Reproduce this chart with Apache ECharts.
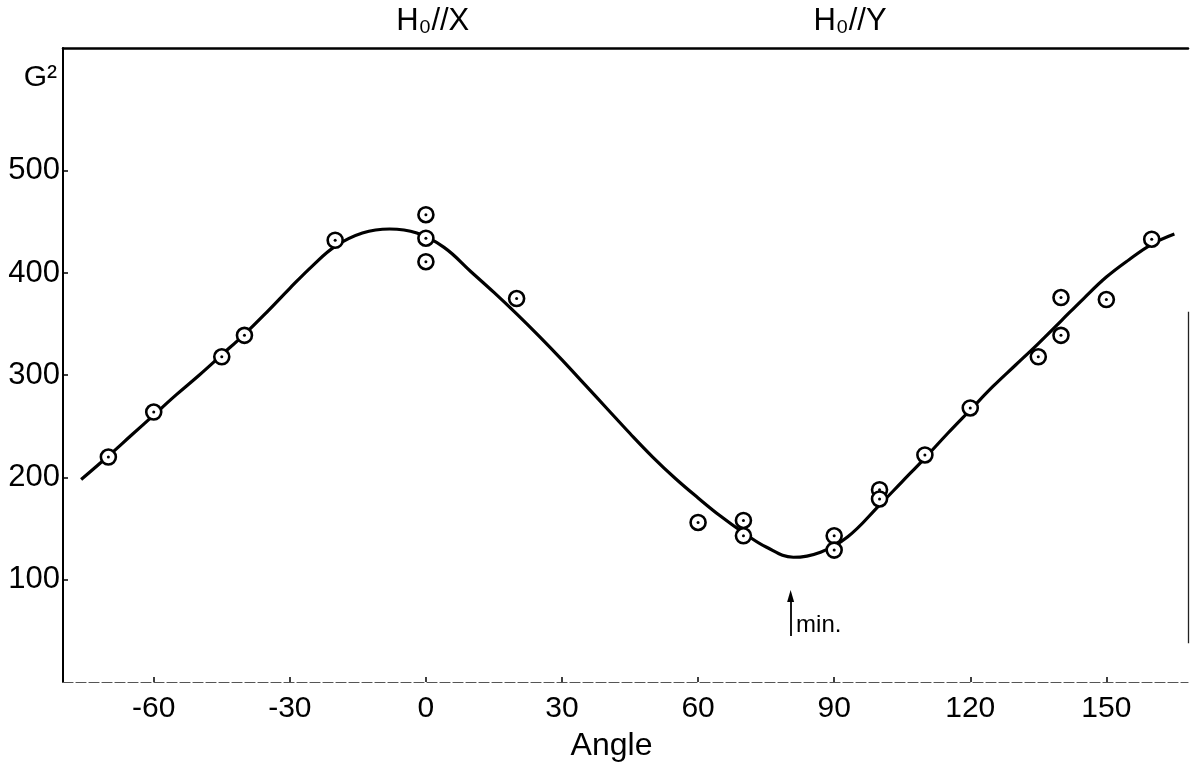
<!DOCTYPE html>
<html>
<head>
<meta charset="utf-8">
<script src="https://cdn.jsdelivr.net/npm/echarts/dist/echarts.min.js"></script>
<style>
html,body{margin:0;padding:0;background:#fff;}
#chart{width:1195px;height:767px;}
</style>
</head>
<body>
<div id="chart"></div>
<script>
// ---- data ----
const xTickValues = [-60, -30, 0, 30, 60, 90, 120, 150];
const yTickValues = [100, 200, 300, 400, 500];

// fitted curve (angle in degrees, G^2)
const curveAngle = [-76, -70, -65, -60, -55, -50, -45, -40, -35, -30, -25, -20, -14, -8, -2, 4, 10, 15, 20, 25, 30, 35, 40, 45, 50, 55, 60, 65, 70, 75, 81, 87, 93, 100, 105, 110, 115, 120, 125, 130, 135, 140, 145, 150, 155, 160, 165];
const curveG     = [198, 221, 241, 261, 281, 300, 320, 340, 362, 385, 407, 426, 439, 443, 439, 425, 401, 381, 360, 338, 315, 291, 267, 243, 220, 199, 180, 162, 146, 132, 122, 127, 142, 173, 196, 219, 243, 266, 289, 310, 331, 353, 375, 396, 413, 428, 438];

// measured points
const pointAngle = [-70, -60, -45, -40, -20, 0, 0, 0, 20, 60, 70, 70, 90, 90, 100, 100, 110, 120, 135, 140, 140, 150, 160];
const pointG     = [220, 264, 318, 339, 432, 457, 434, 411, 375, 156, 158, 143, 143, 129, 188, 179, 222, 268, 318, 376, 339, 374, 433];

// annotations
const topLabelAngles = [1.5, 93.5];
const topLabelTexts = ['H\u2080//X', 'H\u2080//Y'];
const minArrowAngle = 80.4;
const minArrowFromG = 45;
const minArrowToG = 84;
const minTextAt = [81.6, 55];
const minText = 'min.';

const xMin = -80, xMax = 168;
const yMin = 0, yMax = 620;
const rightFrameFromG = 38, rightFrameToG = 362;

// ---- chart ----
const FONT = 'Liberation Sans';
const curveData = curveAngle.map((a, i) => [a, curveG[i]]);
const pointData = pointAngle.map((a, i) => [a, pointG[i]]);

const chart = echarts.init(document.getElementById('chart'), null, {renderer: 'canvas'});
chart.setOption({
  animation: false,
  backgroundColor: '#fff',
  grid: {left: 63, right: 7, top: 48, bottom: 78},
  xAxis: [{
    type: 'value', min: xMin, max: xMax, position: 'bottom',
    axisLine: {show: true, onZero: false, lineStyle: {color: '#555', width: 1.2, type: [10, 3]}},
    axisTick: {show: true, inside: true, length: 5, customValues: xTickValues, lineStyle: {color: '#000', width: 1.5}},
    axisLabel: {customValues: xTickValues, fontFamily: FONT, fontSize: 30, color: '#000', margin: 12},
    splitLine: {show: false},
    name: 'Angle', nameLocation: 'middle', nameGap: 48,
    nameTextStyle: {fontFamily: FONT, fontSize: 32, color: '#000', padding: [0, 28, 0, 0]}
  }, {
    type: 'value', min: xMin, max: xMax, position: 'top',
    axisLine: {show: true, onZero: false, lineStyle: {color: '#000', width: 2.5}},
    axisTick: {show: false},
    axisLabel: {
      customValues: topLabelAngles, fontFamily: FONT, fontSize: 31, color: '#000', margin: 11,
      formatter: function (v) {
        const i = topLabelAngles.indexOf(v);
        return i >= 0 ? topLabelTexts[i] : '';
      }
    },
    splitLine: {show: false}
  }],
  yAxis: [{
    type: 'value', min: yMin, max: yMax,
    axisLine: {show: true, onZero: false, lineStyle: {color: '#000', width: 2}},
    axisTick: {show: true, inside: true, length: 5, customValues: yTickValues, lineStyle: {color: '#000', width: 1.5}},
    axisLabel: {customValues: yTickValues, fontFamily: FONT, fontSize: 31, color: '#000', margin: 3},
    splitLine: {show: false},
    name: 'G\u00B2', nameLocation: 'end', nameGap: -30,
    nameTextStyle: {fontFamily: FONT, fontSize: 30, color: '#000', align: 'right', verticalAlign: 'middle', padding: [0, 6, 0, 0]}
  }],
  series: [{
    type: 'line', data: curveData, smooth: 0.4, showSymbol: false, silent: true,
    lineStyle: {color: '#000', width: 3.2}, z: 2,
    markLine: {
      silent: true, animation: false,
      symbol: ['none', 'none'],
      lineStyle: {color: '#000', width: 1.8, type: 'solid'},
      label: {show: false},
      data: [
        [{coord: [minArrowAngle, minArrowFromG]}, {coord: [minArrowAngle, minArrowToG]}],
        [{coord: [xMax, rightFrameFromG], lineStyle: {width: 1.3, color: '#222'}}, {coord: [xMax, rightFrameToG]}]
      ]
    }
  }, {
    type: 'scatter', data: pointData, symbol: 'circle', symbolSize: 15, silent: true,
    itemStyle: {color: '#fff', borderColor: '#000', borderWidth: 2.6, opacity: 1}, z: 3
  }, {
    type: 'scatter', data: pointData, symbol: 'circle', symbolSize: 3, silent: true,
    itemStyle: {color: '#000', opacity: 1}, z: 4
  }, {
    type: 'scatter', data: [[minArrowAngle, minArrowToG]], symbol: 'triangle', symbolSize: [7, 12],
    silent: true, itemStyle: {color: '#000', opacity: 1}, z: 5
  }, {
    type: 'scatter', data: [minTextAt], symbolSize: 0, silent: true, z: 5,
    itemStyle: {opacity: 1},
    label: {show: true, position: 'right', distance: 0, formatter: minText, fontFamily: FONT, fontSize: 24, color: '#000', opacity: 1}
  }]
});
</script>
</body>
</html>
